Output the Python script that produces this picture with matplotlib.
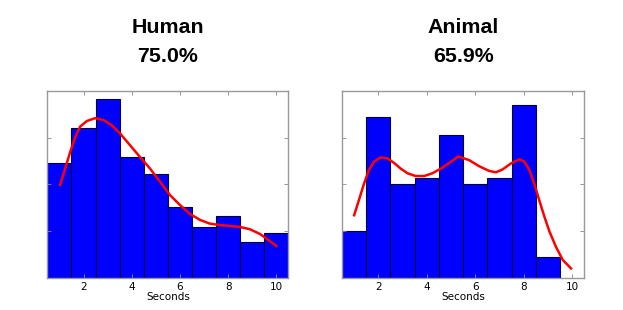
import matplotlib
matplotlib.use("Agg")
import matplotlib.pyplot as plt
import numpy as np

# Data
bin_edges = [0.5, 1.5, 2.5, 3.5, 4.5, 5.5, 6.5, 7.5, 8.5, 9.5, 10.5]
human_heights = [2.46, 3.22, 3.84, 2.59, 2.22, 1.51, 1.08, 1.33, 0.76, 0.95]
animal_heights = [1.01, 3.45, 2.00, 2.13, 3.07, 2.00, 2.13, 3.70, 0.44]

human_curve_x = [1.03, 1.24, 1.45, 1.66, 1.86, 2.14, 2.48, 2.83, 3.17, 3.52, 3.93,
                 4.34, 4.76, 5.17, 5.59, 6.00, 6.41, 6.83, 7.24, 7.65, 8.07, 8.48,
                 8.90, 9.31, 9.59, 10.0]
human_curve_y = [1.99, 2.34, 2.70, 3.02, 3.24, 3.36, 3.42, 3.38, 3.27, 3.09, 2.84,
                 2.59, 2.34, 2.06, 1.77, 1.56, 1.37, 1.24, 1.16, 1.13, 1.11, 1.09,
                 1.04, 0.94, 0.84, 0.68]

animal_curve_x = [1.00, 1.20, 1.41, 1.61, 1.82, 2.10, 2.37, 2.65, 2.92, 3.20, 3.54,
                  3.89, 4.23, 4.58, 4.92, 5.30, 5.75, 6.16, 6.57, 6.85, 7.12, 7.47,
                  7.82, 8.02, 8.23, 8.43, 8.64, 8.85, 9.06, 9.33, 9.61, 9.95]
animal_curve_y = [1.34, 1.67, 2.02, 2.31, 2.49, 2.58, 2.56, 2.46, 2.34, 2.24, 2.18,
                  2.18, 2.24, 2.34, 2.46, 2.60, 2.52, 2.39, 2.29, 2.26, 2.32, 2.45,
                  2.54, 2.49, 2.31, 2.02, 1.66, 1.31, 0.99, 0.66, 0.38, 0.20]

titles = ["Human", "Animal"]
percents = ["75.0%", "65.9%"]
xticks = [2, 4, 6, 8, 10]
yticks = [1, 2, 3]

fig = plt.figure(figsize=(6.23, 3.10), dpi=100)
axes_pos = [[0.076, 0.104, 0.387, 0.602], [0.549, 0.104, 0.389, 0.602]]
data = [(human_heights, human_curve_x, human_curve_y),
        (animal_heights, animal_curve_x, animal_curve_y)]

for pos, (heights, cx, cy), title, pct in zip(axes_pos, data, titles, percents):
    ax = fig.add_axes(pos)
    n = len(heights)
    lefts = bin_edges[:n]
    widths = [bin_edges[i + 1] - bin_edges[i] for i in range(n)]
    ax.bar(lefts, heights, width=widths, align="edge", color="#0000ff",
           edgecolor="#000033", linewidth=0.8)
    ax.plot(cx, cy, color="red", linewidth=1.8, solid_joinstyle="round")
    ax.set_xlim(0.5, 10.5)
    ax.set_ylim(0, 4)
    ax.set_xticks(xticks)
    ax.set_yticks(yticks)
    ax.set_yticklabels([])
    ax.tick_params(direction="in", length=3, width=0.6, color="#888888",
                   top=True, right=True, labelsize=7.5, pad=3)
    for s in ax.spines.values():
        s.set_color("#999999")
        s.set_linewidth(1.0)
    ax.set_xlabel("Seconds", fontsize=7.5, labelpad=0)
    cxf = pos[0] + pos[2] / 2
    fig.text(cxf, 1 - 33.3 / 310, title, ha="center", va="baseline",
             fontsize=15.4, fontweight="bold", family="Liberation Sans")
    fig.text(cxf, 1 - 62.3 / 310, pct, ha="center", va="baseline",
             fontsize=15.4, fontweight="bold", family="Liberation Sans")

fig.savefig("out.png", dpi=100)
